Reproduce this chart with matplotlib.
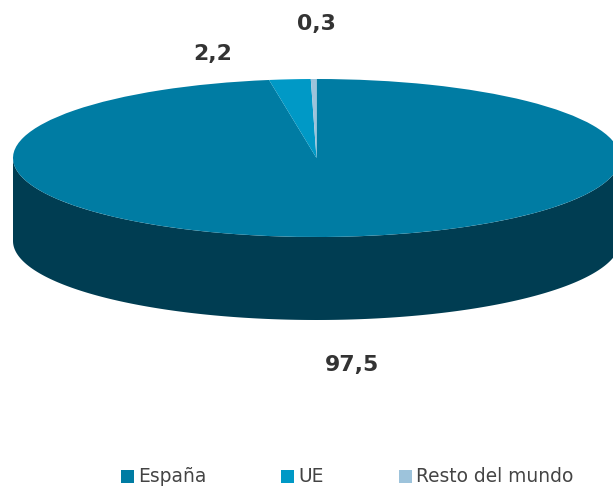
"""3D-style pie of sales by destination, drawn as flattened wedges."""

import numpy as np
import matplotlib
matplotlib.use("Agg")
import matplotlib.pyplot as plt
from matplotlib.patches import Wedge, Rectangle
from matplotlib.transforms import Affine2D

# Data
categories = ["España", "UE", "Resto del mundo"]
values = [97.5, 2.2, 0.3]
value_labels = ["97,5", "2,2", "0,3"]
top_colors = ["#007CA3", "#0099C6", "#9DC3DB"]
side_color = "#003D52"

W, H = 613, 486
plt.rcParams["font.family"] = ["DejaVu Sans"]

fig = plt.figure(figsize=(W / 100, H / 100), dpi=100)
ax = fig.add_axes([0, 0, 1, 1])
ax.set_xlim(0, W)
ax.set_ylim(H, 0)
ax.axis("off")

cx, cy = 316.5, 158
rx, ry = 303.5, 79
depth = 83

# Side wall: lower half of the ellipse swept down by the depth
t = np.linspace(0, np.pi, 200)
xs = cx + rx * np.cos(t)
ys = cy + ry * np.sin(t)
wall_x = np.concatenate([xs, xs[::-1]])
wall_y = np.concatenate([ys, ys[::-1] + depth])
ax.fill(wall_x, wall_y, color=side_color, lw=0, zorder=1)

# Top face: wedges clockwise from 12 o'clock, squashed into the ellipse
squash = Affine2D().scale(rx, ry).translate(cx, cy) + ax.transData
total = sum(values)
angle = -90.0
for val, col in zip(values, top_colors):
    sweep = 360.0 * val / total
    wedge = Wedge((0, 0), 1, angle, angle + sweep, facecolor=col, lw=0, zorder=2)
    wedge.set_transform(squash)
    ax.add_patch(wedge)
    angle += sweep

# Value labels
label_pos = [(352.5, 365), (213, 54), (316.5, 24)]
for txt, (lx, ly) in zip(value_labels, label_pos):
    ax.text(lx, ly, txt, ha="center", va="center", fontsize=15.8,
            fontweight="bold", color="#333333")

# Legend
legend_x = [121, 281, 399]
for name, col, lx in zip(categories, top_colors, legend_x):
    ax.add_patch(Rectangle((lx, 470), 13, 13, facecolor=col, lw=0))
    ax.text(lx + 17, 476.5, name, ha="left", va="center", fontsize=13.4, color="#444444")

fig.savefig("out.png", dpi=100)
